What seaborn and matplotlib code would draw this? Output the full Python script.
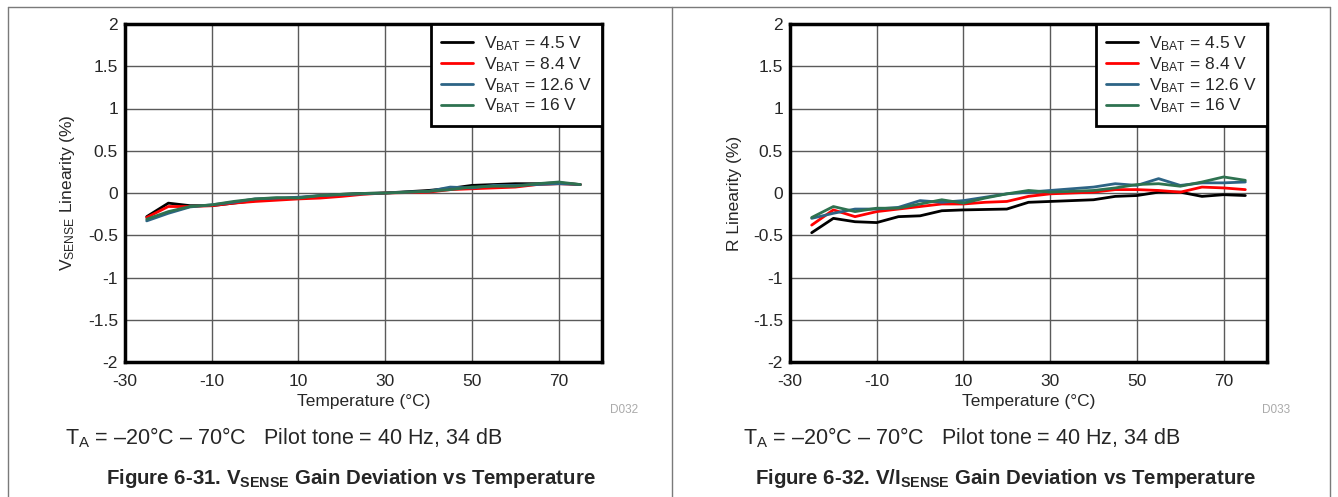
import numpy as np
import pandas as pd
import matplotlib
matplotlib.use("Agg")
import matplotlib.pyplot as plt
import seaborn as sns
from matplotlib.lines import Line2D

# ---------------- data ----------------
temps = [-25, -20, -15, -10, -5, 0, 5, 10, 15, 20, 25, 30, 35, 40, 45, 50, 55, 60, 65, 70, 75]
series_names = ["4.5 V", "8.4 V", "12.6 V", "16 V"]

# Figure 6-31: VSENSE linearity (%)
vs_45 = [-0.28, -0.12, -0.15, -0.15, -0.12, -0.09, -0.07, -0.055, -0.035, -0.016, -0.005, 0.0, 0.015, 0.03, 0.055, 0.09, 0.10, 0.11, 0.11, 0.12, 0.10]
vs_84 = [-0.29, -0.16, -0.16, -0.15, -0.12, -0.10, -0.085, -0.07, -0.06, -0.04, -0.015, 0.0, 0.005, 0.01, 0.04, 0.05, 0.06, 0.07, 0.10, 0.11, 0.10]
vs_126 = [-0.33, -0.24, -0.165, -0.14, -0.11, -0.07, -0.06, -0.05, -0.03, -0.02, -0.01, 0.0, 0.01, 0.02, 0.07, 0.06, 0.09, 0.09, 0.10, 0.11, 0.10]
vs_16 = [-0.31, -0.22, -0.16, -0.14, -0.10, -0.07, -0.055, -0.06, -0.03, -0.015, -0.005, 0.0, 0.01, 0.02, 0.04, 0.07, 0.08, 0.08, 0.11, 0.13, 0.10]

# Figure 6-32: R linearity (%)
r_45 = [-0.47, -0.30, -0.34, -0.35, -0.28, -0.27, -0.21, -0.20, -0.195, -0.19, -0.11, -0.10, -0.09, -0.08, -0.04, -0.03, 0.01, 0.01, -0.04, -0.02, -0.03]
r_84 = [-0.38, -0.20, -0.28, -0.22, -0.19, -0.16, -0.13, -0.13, -0.11, -0.10, -0.04, -0.01, 0.0, 0.01, 0.04, 0.04, 0.03, 0.01, 0.07, 0.06, 0.04]
r_126 = [-0.30, -0.24, -0.19, -0.19, -0.17, -0.09, -0.11, -0.09, -0.05, -0.01, 0.01, 0.03, 0.05, 0.07, 0.11, 0.09, 0.17, 0.09, 0.12, 0.12, 0.13]
r_16 = [-0.29, -0.16, -0.22, -0.18, -0.18, -0.13, -0.08, -0.12, -0.06, -0.01, 0.03, 0.01, 0.02, 0.03, 0.06, 0.10, 0.11, 0.08, 0.13, 0.19, 0.15]

x_ticks = [-30, -10, 10, 30, 50, 70]
y_ticks = [-2, -1.5, -1, -0.5, 0, 0.5, 1, 1.5, 2]
y_ticklabels = ["-2", "-1.5", "-1", "-0.5", "0", "0.5", "1", "1.5", "2"]

colors = ["#000000", "#FF0000", "#2D6485", "#2E7250"]

def long_df(vals):
    rows = []
    for name, v in zip(series_names, vals):
        for t, y in zip(temps, v):
            rows.append({"Temperature": t, "Value": y, "Series": name})
    return pd.DataFrame(rows)

df_left = long_df([vs_45, vs_84, vs_126, vs_16])
df_right = long_df([r_45, r_84, r_126, r_16])

sns.set_style("white")
plt.rcParams["font.family"] = ["Liberation Sans", "DejaVu Sans"]
plt.rcParams["mathtext.fontset"] = "custom"
plt.rcParams["mathtext.rm"] = "Liberation Sans"
plt.rcParams["mathtext.bf"] = "Liberation Sans:bold"

fig = plt.figure(figsize=(13.38, 4.97), dpi=100)

W, H = 1338.0, 497.0
def add_axes_px(x0, y0, x1, y1):
    return fig.add_axes([x0 / W, 1 - y1 / H, (x1 - x0) / W, (y1 - y0) / H])

ax1 = add_axes_px(125, 24, 602, 362)
ax2 = add_axes_px(790, 24, 1267, 362)

palette = dict(zip(series_names, colors))
FS = 12.5

for ax, df, ylabel in [
    (ax1, df_left, r"$\mathregular{V_{SENSE}}$ Linearity (%)"),
    (ax2, df_right, "R Linearity (%)"),
]:
    sns.lineplot(data=df, x="Temperature", y="Value", hue="Series", palette=palette,
                 hue_order=series_names, ax=ax, linewidth=2.0, legend=False, zorder=3)
    ax.set_xlim(-30, 80)
    ax.set_ylim(-2, 2)
    ax.set_xticks(x_ticks)
    ax.set_xticklabels([str(t) for t in x_ticks])
    ax.set_yticks(y_ticks)
    ax.set_yticklabels(y_ticklabels)
    ax.tick_params(axis="both", length=0, labelsize=FS)
    ax.tick_params(axis="x", pad=9)
    ax.tick_params(axis="y", pad=5)
    ax.grid(True, color="#5a5a5a", linewidth=1.0, zorder=0)
    ax.set_axisbelow(True)
    for s in ax.spines.values():
        s.set_visible(True)
        s.set_color("black")
        s.set_linewidth(2.5)
    ax.set_xlabel("Temperature (°C)", fontsize=FS, labelpad=3)
    ax.set_ylabel(ylabel, fontsize=FS, labelpad=8)
    handles = [Line2D([0], [0], color=c, lw=2) for c in colors]
    labels = [r"$\mathregular{V_{BAT}}$ = " + n for n in series_names]
    leg = ax.legend(handles, labels, loc="upper right", bbox_to_anchor=(1.0, 1.0),
                    fontsize=FS, frameon=True, fancybox=False, borderaxespad=0,
                    handlelength=1.85, handletextpad=0.6, labelspacing=0.12,
                    borderpad=0.6)
    fr = leg.get_frame()
    fr.set_edgecolor("black")
    fr.set_linewidth(2.0)
    fr.set_alpha(1)
    leg.set_zorder(5)

# D-codes
fig.text(610 / W, 1 - 410 / H, "D032", fontsize=8.5, color="#aaaaaa", ha="left", va="center")
fig.text(1262 / W, 1 - 410 / H, "D033", fontsize=8.5, color="#aaaaaa", ha="left", va="center")

# Conditions text
cond = r"$\mathregular{T_A}$ = –20°C – 70°C   Pilot tone = 40 Hz, 34 dB"
fig.text(65 / W, 1 - 438 / H, cond, fontsize=15.5, ha="left", va="center")
fig.text(743 / W, 1 - 438 / H, cond, fontsize=15.5, ha="left", va="center")

# Figure captions
fig.text(351 / W, 1 - 479 / H, r"Figure 6-31. $\mathbf{V_{SENSE}}$ Gain Deviation vs Temperature",
         fontsize=14.7, fontweight="bold", ha="center", va="center")
fig.text(1006 / W, 1 - 479 / H, r"Figure 6-32. $\mathbf{V/I_{SENSE}}$ Gain Deviation vs Temperature",
         fontsize=14.7, fontweight="bold", ha="center", va="center")

# Page frame lines
frame_col = "#7a7a7a"
for (x0, y0, x1, y1) in [(8, 7, 1330, 7), (8, 7, 8, 497), (1330, 7, 1330, 497), (672, 7, 672, 497)]:
    fig.add_artist(Line2D([x0 / W, x1 / W], [1 - y0 / H, 1 - y1 / H], color=frame_col,
                          linewidth=1.0, transform=fig.transFigure))

fig.savefig("out.png", dpi=100)
